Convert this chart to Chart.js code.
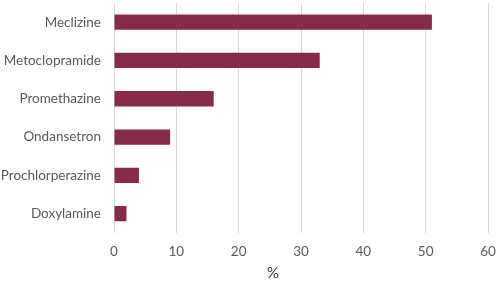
<!DOCTYPE html>
<html>
<head>
<meta charset="utf-8">
<script src="https://cdn.jsdelivr.net/npm/chart.js@4"></script>
<style>
  html, body { margin: 0; padding: 0; background: #fff; }
  #wrap { width: 498px; height: 281px; }
</style>
</head>
<body>
<div id="wrap"><canvas id="chart" width="498" height="281"></canvas></div>
<script>
const drugs = ['Meclizine', 'Metoclopramide', 'Promethazine', 'Ondansetron', 'Prochlorperazine', 'Doxylamine'];
const percents = [51, 33, 16, 9, 4, 2];
const xTicks = [0, 10, 20, 30, 40, 50, 60];
const axisTitle = '%';

const barColor = '#872B4B';
const textColor = '#595959';
const labelFont = { family: 'Lato', size: 13.5 };

// axis title sits a little left of the plot centre, like the original
const titlePlugin = {
    id: 'titlePlugin',
    afterDraw: (chart) => {
        const ctx = chart.ctx;
        const area = chart.chartArea;
        ctx.save();
        ctx.fillStyle = '#333333';
        ctx.font = '15px Lato';
        ctx.textAlign = 'center';
        ctx.textBaseline = 'middle';
        ctx.fillText(axisTitle, (area.left + area.right) / 2 - 28, 273);
        ctx.restore();
    }
};

new Chart(document.getElementById('chart'), {
    type: 'bar',
    data: {
        labels: drugs,
        datasets: [{
            data: percents,
            backgroundColor: barColor,
            categoryPercentage: 1.0,
            barPercentage: 0.4
        }]
    },
    options: {
        indexAxis: 'y',
        responsive: false,
        animation: false,
        layout: { padding: { top: 3, right: 10, bottom: 10, left: 0 } },
        plugins: { legend: { display: false }, tooltip: { enabled: false } },
        scales: {
            x: {
                min: 0,
                max: 60,
                afterBuildTicks: (axis) => { axis.ticks = xTicks.map(v => ({ value: v })); },
                afterFit: (axis) => { axis.paddingLeft = 0; axis.paddingRight = 0; },
                grid: { color: '#d9d9d9', drawTicks: false },
                border: { display: false },
                ticks: { color: textColor, font: labelFont, padding: 11 }
            },
            y: {
                afterFit: (axis) => { axis.width = 114; axis.paddingTop = 0; axis.paddingBottom = 0; },
                grid: { display: false, drawTicks: false },
                border: { display: false },
                ticks: { color: textColor, font: labelFont, padding: 13 }
            }
        }
    },
    plugins: [titlePlugin]
});
</script>
</body>
</html>
